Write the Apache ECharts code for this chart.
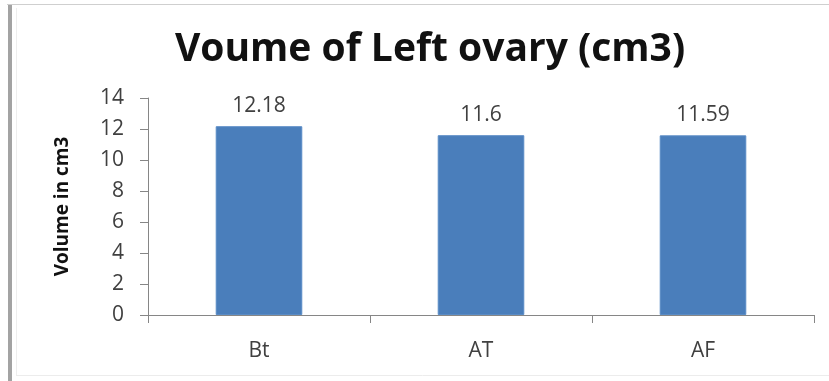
<!DOCTYPE html>
<html>
<head>
<meta charset="utf-8">
<style>
  html, body { margin: 0; padding: 0; background: #ffffff; }
  #chart { width: 829px; height: 381px; }
</style>
<script src="https://cdn.jsdelivr.net/npm/echarts@6/dist/echarts.min.js"></script>
</head>
<body>
<div id="chart"></div>
<script>
// Left ovary volume (cm3) by group
const categories = ['Bt', 'AT', 'AF'];
const volumes = [12.18, 11.6, 11.59];
const yTicks = { min: 0, max: 14, interval: 2 };

const chart = echarts.init(document.getElementById('chart'), null, { renderer: 'canvas' });

const labelColor = '#404040';
const axisColor = '#868686';

chart.setOption({
  backgroundColor: '#ffffff',
  animation: false,
  title: {
    text: 'Voume of Left ovary (cm3)',
    left: 425,
    top: 25,
    textAlign: 'center',
    textStyle: {
      fontFamily: 'Open Sans',
      fontWeight: 'bold',
      fontSize: 39,
      color: '#111111'
    }
  },
  grid: { left: 148, right: 15, top: 98, bottom: 66 },
  xAxis: {
    type: 'category',
    data: categories,
    axisLine: { lineStyle: { color: axisColor, width: 1 } },
    axisTick: { show: true, alignWithLabel: false, length: 8, inside: false, lineStyle: { color: axisColor } },
    axisLabel: {
      margin: 26,
      fontFamily: 'Open Sans',
      fontSize: 21,
      color: labelColor
    },
    splitLine: { show: false }
  },
  yAxis: {
    type: 'value',
    min: yTicks.min,
    max: yTicks.max,
    interval: yTicks.interval,
    name: 'Volume in cm3',
    nameLocation: 'middle',
    nameGap: 76,
    nameRotate: 90,
    nameTextStyle: {
      fontFamily: 'Open Sans',
      fontWeight: 'bold',
      fontSize: 19,
      color: '#111111'
    },
    axisLine: { show: true, lineStyle: { color: axisColor, width: 1 } },
    axisTick: { show: true, length: 8, lineStyle: { color: axisColor } },
    axisLabel: {
      margin: 24,
      fontFamily: 'Open Sans',
      fontSize: 21,
      color: labelColor
    },
    splitLine: { show: false }
  },
  series: [{
    type: 'bar',
    data: volumes,
    barCategoryGap: '61%',
    itemStyle: { color: '#4a7ebb', borderColor: '#5a8cc6', borderWidth: 1 },
    label: {
      show: true,
      position: 'top',
      distance: 10,
      fontFamily: 'Open Sans',
      fontSize: 21,
      color: labelColor
    }
  }],
  graphic: [
    // page frame around the figure
    { type: 'line', shape: { x1: 7, y1: 4.5, x2: 829, y2: 4.5 }, style: { stroke: '#cfcfcf', lineWidth: 1 }, silent: true },
    { type: 'rect', shape: { x: 8, y: 5, width: 4, height: 376 }, style: { fill: '#a3a3a3' }, silent: true },
    { type: 'line', shape: { x1: 16.5, y1: 8, x2: 16.5, y2: 375 }, style: { stroke: '#eeeeee', lineWidth: 1 }, silent: true },
    { type: 'line', shape: { x1: 16, y1: 375.5, x2: 829, y2: 375.5 }, style: { stroke: '#ececec', lineWidth: 1 }, silent: true }
  ]
});
</script>
</body>
</html>
